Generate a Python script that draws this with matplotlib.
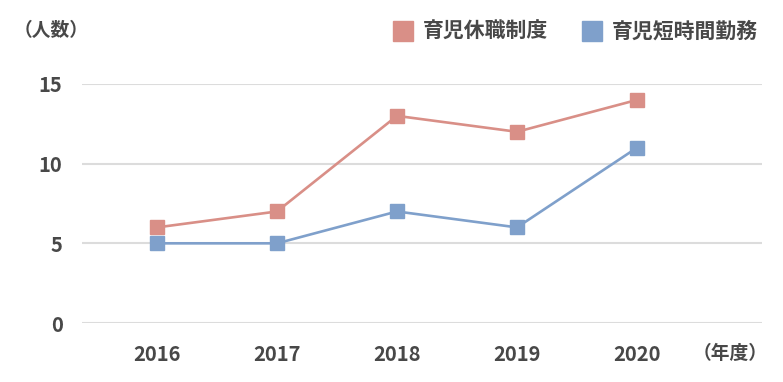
import matplotlib.pyplot as plt
from matplotlib.patches import Rectangle

plt.rcParams['font.family'] = ['Noto Sans CJK JP', 'DejaVu Sans']

years = ["2016", "2017", "2018", "2019", "2020"]
ikuji_kyushoku = [6, 7, 13, 12, 14]
ikuji_tanjikan = [5, 5, 7, 6, 11]
yticks = [0, 5, 10, 15]

pink = "#d98f87"
blue = "#7fa0cb"
txt = "#484848"

fig = plt.figure(figsize=(7.83, 3.82), dpi=100)
ax = fig.add_axes([82/783, 1-323/382, (762-82)/783, (323-84)/382])

x = list(range(len(years)))
ax.plot(x, ikuji_kyushoku, color=pink, lw=1.9, marker="s", ms=10, mec=pink, clip_on=False, zorder=3)
ax.plot(x, ikuji_tanjikan, color=blue, lw=1.9, marker="s", ms=10, mec=blue, clip_on=False, zorder=3)

ax.set_xlim(-0.625, 5.042)
ax.set_ylim(0, 15)
ax.set_yticks(yticks)
ax.set_xticks(x)
ax.set_xticklabels(years)
ax.grid(axis="y", color="#dcdcdc", lw=1.5)
ax.set_axisbelow(True)
for s in ax.spines.values():
    s.set_visible(False)
ax.tick_params(length=0, labelsize=14.5, labelcolor=txt)
ax.tick_params(axis="y", pad=14)
ax.tick_params(axis="x", pad=15)
for lab in ax.get_xticklabels() + ax.get_yticklabels():
    lab.set_fontweight("bold")

fig.text(14/783, 1-31/382, "（人数）", fontsize=13.5, color=txt, fontweight="bold",
         va="center", ha="left")
fig.text(768/783, 1-353/382, "（年度）", fontsize=13.5, color=txt, fontweight="bold",
         va="center", ha="right")

# legend
for sx, col, label in [(393, pink, "育児休職制度"), (582, blue, "育児短時間勤務")]:
    fig.add_artist(Rectangle((sx/783, 1-41/382), 20/783, 20/382, color=col,
                             transform=fig.transFigure))
    fig.text((sx+30)/783, 1-31/382, label, fontsize=15, color=txt, fontweight="bold",
             va="center", ha="left")

plt.savefig("out.png", dpi=100)
